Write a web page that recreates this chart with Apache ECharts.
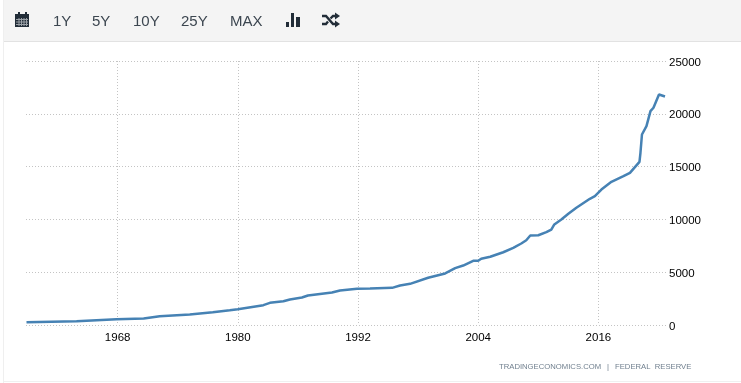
<!DOCTYPE html>
<html>
<head>
<meta charset="utf-8">
<style>html,body{margin:0;padding:0;background:#fff}#c{width:741px;height:383px}</style>
<script src="https://cdn.jsdelivr.net/npm/echarts@6/dist/echarts.min.js"></script>
</head>
<body>
<div id="c"></div>
<script>
const years = [1958.9,1963.9,1967.9,1970.6,1972.2,1975.2,1977.5,1979.2,1980,1982.55,1983.2,1984.55,1985.2,1986.4,1987,1989.4,1990.2,1991.9,1993.2,1995.4,1996.2,1997.2,1999,2000.7,2001.7,2002.5,2003.5,2004,2004.3,2005.2,2006.5,2007.5,2008.3,2008.8,2009.2,2010,2010.8,2011.3,2011.6,2012.3,2013,2013.8,2015.15,2015.65,2016.3,2017.3,2018.5,2019.15,2020.1,2020.2,2020.35,2020.8,2021.2,2021.5,2022.05,2022.65];
const values = [270,360,550,615,830,990,1210,1400,1500,1875,2100,2250,2415,2600,2790,3080,3270,3430,3460,3520,3740,3900,4470,4880,5380,5630,6080,6080,6270,6460,6890,7310,7720,8030,8480,8500,8790,9040,9520,9990,10530,11100,11950,12200,12830,13560,14090,14410,15450,16310,18040,18830,20250,20570,21830,21640];
const xTicks = [1968,1980,1992,2004,2016];
const yTicks = [0,5000,10000,15000,20000,25000];
const rangeLabels = ['1Y','5Y','10Y','25Y','MAX'];
const rangeX = [53,92,133,181,230];
const creditLeft = 'TRADINGECONOMICS.COM';
const creditBar = '|';
const creditRight = 'FEDERAL  RESERVE';

const dark = '#222d38';
const creditFont = '7.7px "Liberation Sans", Arial, sans-serif';
const pl = pts => ({type:'polyline',shape:{points:pts},style:{stroke:dark,lineWidth:2.4,fill:null}});
const pg = pts => ({type:'polygon',shape:{points:pts},style:{fill:dark}});
const graphic = [
  {type:'rect',z:0,shape:{x:4,y:0,width:737,height:41},style:{fill:'#f4f4f4'}},
  {type:'rect',z:0,shape:{x:4,y:41,width:737,height:1},style:{fill:'#e2e2e2'}},
  {type:'rect',z:0,shape:{x:3,y:0,width:1,height:383},style:{fill:'#efefef'}},
  {type:'rect',z:0,shape:{x:4,y:381,width:737,height:1},style:{fill:'#f0f0f0'}},
  // calendar icon
  {type:'rect',shape:{x:15,y:14,width:14,height:13},style:{fill:dark}},
  {type:'rect',shape:{x:18,y:12,width:2,height:3},style:{fill:dark}},
  {type:'rect',shape:{x:25,y:12,width:2,height:3},style:{fill:dark}},
  ...[19,21.5,24].map(y=>({type:'rect',shape:{x:16,y:y,width:12,height:1},style:{fill:'#9aa0a6'}})),
  ...[18.5,21,23.5,26].map(x=>({type:'rect',shape:{x:x,y:18,width:1,height:8},style:{fill:'#9aa0a6'}})),
  // bar icon
  {type:'rect',shape:{x:286,y:22,width:3,height:5},style:{fill:dark}},
  {type:'rect',shape:{x:291,y:13,width:3,height:14},style:{fill:dark}},
  {type:'rect',shape:{x:296,y:17,width:4,height:10},style:{fill:dark}},
  // shuffle icon
  pl([[322,16],[326,16],[333,24],[336,24]]),
  pl([[322,24],[326,24],[328,21.5]]),
  pl([[330.5,18.5],[333,16],[336,16]]),
  pg([[335,12.5],[340,16],[335,19.5]]),
  pg([[335,20.5],[340,24],[335,27.5]]),
  ...rangeLabels.map((t,i)=>({type:'text',x:rangeX[i],y:22,style:{text:t,fill:'#3c4650',font:'15px "Liberation Sans", Arial, sans-serif',textVerticalAlign:'middle'}})),
  {type:'text',x:499,y:367,style:{text:creditLeft,fill:'#71808f',font:creditFont,textVerticalAlign:'middle'}},
  {type:'text',x:607,y:367,style:{text:creditBar,fill:'#71808f',font:creditFont,textVerticalAlign:'middle'}},
  {type:'text',x:615,y:367,style:{text:creditRight,fill:'#71808f',font:creditFont,textVerticalAlign:'middle'}}
];

const chart = echarts.init(document.getElementById('c'),null,{renderer:'canvas'});
chart.setOption({
  animation:false,
  backgroundColor:'#fff',
  graphic:graphic,
  grid:{left:26,right:75,top:61,height:264,containLabel:false},
  xAxis:{
    type:'value',min:1958.85,max:2022.75,
    axisLine:{show:false},
    axisTick:{show:false,customValues:xTicks},
    axisLabel:{customValues:xTicks,formatter:v=>String(Math.round(v)),color:'#000',fontSize:11.5,fontFamily:'"Liberation Sans", Arial, sans-serif',margin:7},
    splitLine:{show:true,lineStyle:{color:'#c4c4c4',type:[1,2],width:1}}
  },
  yAxis:{
    type:'value',position:'right',min:0,max:25000,interval:5000,
    axisLine:{show:false},axisTick:{show:false},
    axisLabel:{formatter:v=>String(v),color:'#000',fontSize:11.5,fontFamily:'"Liberation Sans", Arial, sans-serif',margin:3,verticalAlign:'top',lineHeight:3},
    splitLine:{show:true,lineStyle:{color:'#c4c4c4',type:[1,2],width:1}}
  },
  series:[{type:'line',data:years.map((y,i)=>[y,values[i]]),showSymbol:false,smooth:false,lineStyle:{color:'#4682b4',width:2.5},clip:false}]
});
</script>
</body>
</html>
